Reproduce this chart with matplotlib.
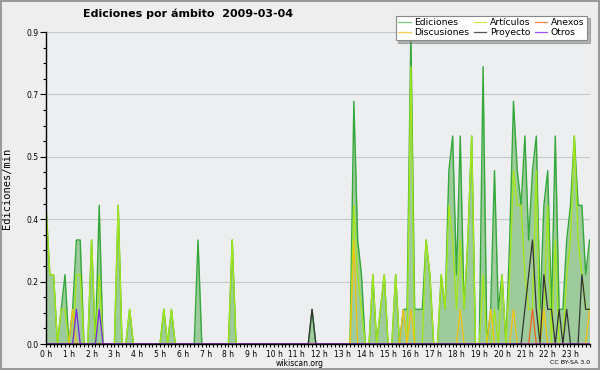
import numpy as np
import matplotlib
matplotlib.use('Agg')
from matplotlib import pyplot as plt
from matplotlib.lines import Line2D

# ediciones por minuto, intervalos de 10 min (12 valores = 2 horas por fila)
ediciones = [
    0.4, 0.2, 0.2, 0, 0.1, 0.2, 0, 0.1, 0.3, 0.3, 0, 0,
    0.3, 0, 0.4, 0, 0, 0, 0, 0.4, 0, 0, 0.1, 0,
    0, 0, 0, 0, 0, 0, 0, 0.1, 0, 0.1, 0, 0,
    0, 0, 0, 0, 0.3, 0, 0, 0, 0, 0, 0, 0,
    0, 0.3, 0, 0, 0, 0, 0, 0, 0, 0, 0, 0,
    0, 0, 0, 0, 0, 0, 0, 0, 0, 0, 0.1, 0,
    0, 0, 0, 0, 0, 0, 0, 0, 0, 0.7, 0.3, 0.2,
    0, 0, 0.2, 0, 0.1, 0.2, 0, 0, 0.2, 0, 0.1, 0.1,
    0.9, 0.1, 0.1, 0.1, 0.3, 0.2, 0, 0, 0.2, 0.1, 0.5, 0.6,
    0.2, 0.6, 0.1, 0.3, 0.6, 0, 0, 0.8, 0, 0.1, 0.5, 0.1,
    0.2, 0, 0.3, 0.7, 0.5, 0.4, 0.6, 0.3, 0.5, 0.6, 0.1, 0.4,
    0.5, 0.1, 0.6, 0.1, 0.1, 0.3, 0.4, 0.6, 0.4, 0.4, 0.2, 0.3,
]
articulos = [
    0.4, 0.2, 0.2, 0, 0.1, 0.1, 0, 0, 0.2, 0.2, 0, 0,
    0.3, 0, 0.2, 0, 0, 0, 0, 0.4, 0, 0, 0.1, 0,
    0, 0, 0, 0, 0, 0, 0, 0.1, 0, 0.1, 0, 0,
    0, 0, 0, 0, 0, 0, 0, 0, 0, 0, 0, 0,
    0, 0.3, 0, 0, 0, 0, 0, 0, 0, 0, 0, 0,
    0, 0, 0, 0, 0, 0, 0, 0, 0, 0, 0, 0,
    0, 0, 0, 0, 0, 0, 0, 0, 0, 0.4, 0.2, 0.1,
    0, 0, 0.2, 0, 0.1, 0.2, 0, 0, 0.2, 0, 0, 0,
    0.8, 0, 0, 0, 0.3, 0.2, 0, 0, 0.2, 0.1, 0.4, 0.3,
    0.1, 0.3, 0.1, 0.3, 0.6, 0, 0, 0.2, 0, 0, 0.1, 0,
    0.2, 0, 0.2, 0.5, 0.4, 0.4, 0.2, 0.1, 0.1, 0.5, 0, 0.1,
    0.4, 0, 0.3, 0, 0, 0.2, 0.3, 0.6, 0.3, 0.2, 0.1, 0.1,
]
discusiones = [
    0, 0, 0, 0, 0, 0, 0, 0.1, 0, 0, 0, 0,
    0, 0, 0, 0, 0, 0, 0, 0, 0, 0, 0, 0,
    0, 0, 0, 0, 0, 0, 0, 0, 0, 0, 0, 0,
    0, 0, 0, 0, 0, 0, 0, 0, 0, 0, 0, 0,
    0, 0, 0, 0, 0, 0, 0, 0, 0, 0, 0, 0,
    0, 0, 0, 0, 0, 0, 0, 0, 0, 0, 0, 0,
    0, 0, 0, 0, 0, 0, 0, 0, 0, 0.3, 0, 0,
    0, 0, 0, 0, 0, 0, 0, 0, 0, 0, 0.1, 0,
    0.1, 0, 0, 0, 0, 0, 0, 0, 0, 0, 0, 0,
    0, 0.1, 0, 0, 0, 0, 0, 0, 0, 0.1, 0, 0,
    0, 0, 0, 0.1, 0, 0, 0, 0, 0, 0, 0, 0.1,
    0, 0, 0, 0, 0, 0, 0, 0, 0, 0, 0, 0.1,
]
anexos = [
    0, 0, 0, 0, 0, 0, 0, 0, 0, 0, 0, 0,
    0, 0, 0, 0, 0, 0, 0, 0, 0, 0, 0, 0,
    0, 0, 0, 0, 0, 0, 0, 0, 0, 0, 0, 0,
    0, 0, 0, 0, 0, 0, 0, 0, 0, 0, 0, 0,
    0, 0, 0, 0, 0, 0, 0, 0, 0, 0, 0, 0,
    0, 0, 0, 0, 0, 0, 0, 0, 0, 0, 0, 0,
    0, 0, 0, 0, 0, 0, 0, 0, 0, 0, 0, 0,
    0, 0, 0, 0, 0, 0, 0, 0, 0, 0, 0, 0,
    0, 0, 0, 0, 0, 0, 0, 0, 0, 0, 0, 0,
    0, 0, 0, 0, 0, 0, 0, 0, 0, 0, 0, 0,
    0, 0, 0, 0, 0, 0, 0, 0, 0.1, 0, 0, 0,
    0, 0, 0, 0, 0, 0, 0, 0, 0, 0, 0, 0,
]
proyecto = [
    0, 0, 0, 0, 0, 0, 0, 0, 0, 0, 0, 0,
    0, 0, 0, 0, 0, 0, 0, 0, 0, 0, 0, 0,
    0, 0, 0, 0, 0, 0, 0, 0, 0, 0, 0, 0,
    0, 0, 0, 0, 0, 0, 0, 0, 0, 0, 0, 0,
    0, 0, 0, 0, 0, 0, 0, 0, 0, 0, 0, 0,
    0, 0, 0, 0, 0, 0, 0, 0, 0, 0, 0.1, 0,
    0, 0, 0, 0, 0, 0, 0, 0, 0, 0, 0, 0,
    0, 0, 0, 0, 0, 0, 0, 0, 0, 0, 0, 0,
    0, 0, 0, 0, 0, 0, 0, 0, 0, 0, 0, 0,
    0, 0, 0, 0, 0, 0, 0, 0, 0, 0, 0, 0,
    0, 0, 0, 0, 0, 0, 0.1, 0.2, 0.3, 0.1, 0, 0.2,
    0.1, 0.1, 0, 0.1, 0, 0.1, 0, 0, 0, 0.2, 0.1, 0.1,
]
otros = [
    0, 0, 0, 0, 0, 0, 0, 0, 0.1, 0, 0, 0,
    0, 0, 0.1, 0, 0, 0, 0, 0, 0, 0, 0, 0,
    0, 0, 0, 0, 0, 0, 0, 0, 0, 0, 0, 0,
    0, 0, 0, 0, 0, 0, 0, 0, 0, 0, 0, 0,
    0, 0, 0, 0, 0, 0, 0, 0, 0, 0, 0, 0,
    0, 0, 0, 0, 0, 0, 0, 0, 0, 0, 0, 0,
    0, 0, 0, 0, 0, 0, 0, 0, 0, 0, 0, 0,
    0, 0, 0, 0, 0, 0, 0, 0, 0, 0, 0, 0,
    0, 0, 0, 0, 0, 0, 0, 0, 0, 0, 0, 0,
    0, 0, 0, 0, 0, 0, 0, 0, 0, 0, 0, 0,
    0, 0, 0, 0, 0, 0, 0, 0, 0, 0, 0, 0,
    0, 0, 0, 0, 0, 0, 0, 0, 0, 0, 0, 0,
]
horas = [str(h) + ' h' for h in range(24)]
y_max = 0.9

c_fill = '#9ecb9c'
c_edic = '#34a83a'
c_art = '#a3e61c'
c_disc = '#f4c20f'
c_anex = '#f0621e'
c_proy = '#333333'
c_otros = '#7a22e8'

x = np.arange(len(ediciones)) / 6.0  # horas

fig = plt.figure(figsize=(6, 3.7), dpi=100)
fig.patch.set_facecolor('#eeeeef')
fig.patch.set_edgecolor('#9a9a9a')
fig.patch.set_linewidth(1.5)

ax = fig.add_axes([46 / 600, 26 / 370, 543.5 / 600, 312 / 370])
ax.set_facecolor('#edeef0')

ax.fill_between(x, 0, ediciones, color=c_fill, lw=0, zorder=2)
ax.plot(x, ediciones, color=c_edic, lw=1.0, zorder=3)
ax.plot(x, articulos, color=c_art, lw=1.0, zorder=4)
ax.plot(x, discusiones, color=c_disc, lw=0.9, zorder=5)
ax.plot(x, anexos, color=c_anex, lw=0.9, zorder=5)
ax.plot(x, proyecto, color=c_proy, lw=0.9, zorder=6)
ax.plot(x, otros, color=c_otros, lw=0.9, zorder=6)

ax.set_xlim(0, x[-1])
ax.set_ylim(0, y_max)

ax.set_xticks(np.arange(24))
ax.set_xticklabels(horas)
ax.set_xticks(x, minor=True)
yt = np.linspace(0, y_max, 6)
ax.set_yticks(yt)
ax.set_yticklabels(['%.1f' % v for v in yt])
ax.set_yticks(np.linspace(0, y_max, 21), minor=True)

ax.tick_params(axis='both', which='major', labelsize=5.5, width=0.8, length=4, pad=1.5)
ax.tick_params(axis='both', which='minor', width=0.8, length=2.2)
ax.tick_params(axis='x', which='both', length=2.5)

for s in ['top', 'right']:
    ax.spines[s].set_visible(False)
for s in ['left', 'bottom']:
    ax.spines[s].set_linewidth(1.0)
    ax.spines[s].set_zorder(10)

ax.grid(axis='y', which='major', color='#c8c8c8', lw=0.8, zorder=1)
ax.set_axisbelow(True)

ax.set_ylabel('Ediciones/min', family='DejaVu Sans Mono', fontsize=7.5)
ax.yaxis.set_label_coords(-0.062, 0.5)

fig.text(188 / 600, 1 - 14 / 370, 'Ediciones por ámbito  2009-03-04',
         ha='center', va='center', fontsize=8, fontweight='bold')
fig.text(300 / 600, 1 - 363.5 / 370, 'wikiscan.org', ha='center', va='center', fontsize=5.5)
fig.text(590 / 600, 1 - 363 / 370, 'CC BY-SA 3.0', ha='right', va='center', fontsize=4.5)

handles = [
    Line2D([], [], color='#77cc77', lw=0.9),
    Line2D([], [], color='#f6cc4a', lw=0.9),
    Line2D([], [], color='#c8ec55', lw=0.9),
    Line2D([], [], color='#555555', lw=0.9),
    Line2D([], [], color='#f2814a', lw=0.9),
    Line2D([], [], color='#9a55ee', lw=0.9),
]
labels = ['Ediciones', 'Discusiones', 'Artículos', 'Proyecto', 'Anexos', 'Otros']
leg = fig.legend(handles, labels, ncol=3, loc='upper right',
                 bbox_to_anchor=(592 / 600, 1 - 11 / 370), fontsize=6.7,
                 handlelength=1.3, handletextpad=0.4, columnspacing=0.5,
                 labelspacing=0.1, borderpad=0.3, fancybox=False,
                 framealpha=1, edgecolor='#888888',
                 shadow={'color': '#777777'})
leg.get_frame().set_linewidth(0.8)

fig.savefig('out.png', dpi=100, facecolor=fig.get_facecolor(), edgecolor=fig.patch.get_edgecolor())
